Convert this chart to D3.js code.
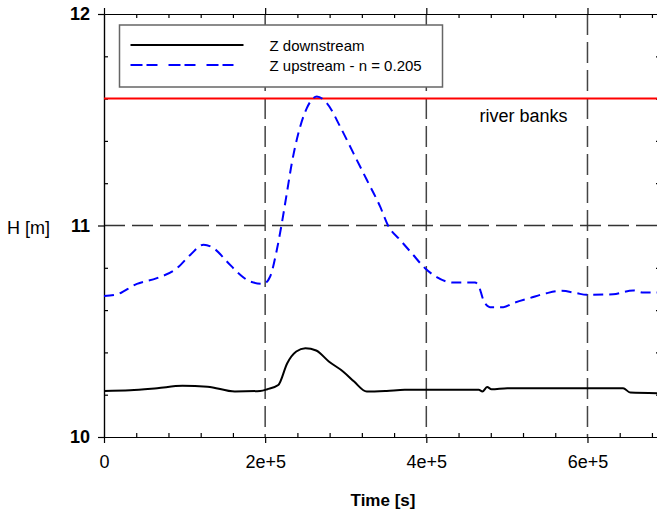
<!DOCTYPE html>
<html>
<head>
<meta charset="utf-8">
<script src="https://cdn.jsdelivr.net/npm/d3@7"></script>
<style>
  body { margin: 0; background: #fff; }
  svg { display: block; font-family: "Liberation Sans", Arial, sans-serif; }
</style>
</head>
<body>
<svg class="viz" width="657" height="514"></svg>
<script>
// time [s] and water level H [m]
var downTime = [0, 32400, 66000, 97300, 128500, 162400, 193800, 202700, 216300, 227400, 238600, 249900,
  263300, 279000, 297000, 310400, 326100, 350800, 373200, 465100, 469600, 475400, 480900, 500600,
  644200, 653100, 690000];
var downH = [10.218, 10.221, 10.231, 10.242, 10.238, 10.215, 10.218, 10.226, 10.246, 10.349, 10.404, 10.42,
  10.409, 10.357, 10.309, 10.262, 10.215, 10.218, 10.223, 10.223, 10.215, 10.236, 10.226, 10.231,
  10.231, 10.21, 10.207];

var upTime = [0, 14000, 40900, 65700, 90500, 107000, 123500, 135900, 152500, 169000, 181400, 197900,
  206200, 214500, 220700, 226900, 233100, 241300, 251700, 264100, 276500, 293000, 309500, 326100,
  342600, 352500, 367400, 381900, 398400, 412900, 433500, 460400, 464500, 470700, 479000, 495500,
  507900, 528600, 549300, 567900, 586500, 598900, 631900, 656700, 669100, 690000];
var upH = [10.667, 10.672, 10.724, 10.751, 10.798, 10.861, 10.909, 10.893, 10.83, 10.767, 10.735, 10.724,
  10.759, 10.885, 11.011, 11.153, 11.295, 11.437, 11.555, 11.61, 11.579, 11.468, 11.342, 11.216,
  11.09, 11.0, 10.932, 10.869, 10.798, 10.756, 10.73, 10.73, 10.719, 10.649, 10.614, 10.614,
  10.633, 10.657, 10.68, 10.691, 10.68, 10.672, 10.675, 10.693, 10.683, 10.683];

var riverBanks = 11.6;

var xMajor = [0, 2e5, 4e5, 6e5];
var xMinor = d3.range(0, 690001, 4e4).filter(function(d) { return d % 2e5 != 0; });
var yMajor = [10, 11, 12];
var yMinor = [10.2, 10.4, 10.6, 10.8, 11.2, 11.4, 11.6, 11.8];
var xGrid = [2e5, 4e5, 6e5];
var yGrid = [11];

var legendNames = ["Z downstream", "Z upstream - n = 0.205"];

var svg = d3.select(".viz"),
    margin = {top: 14, right: -3, bottom: 77, left: 104},
    width = svg.attr("width") - margin.left - margin.right,
    height = svg.attr("height") - margin.top - margin.bottom;

var x = d3.scaleLinear().domain([0, 690000]).range([0, width]);
var y = d3.scaleLinear().domain([10, 12]).range([height, 0]);

var g = svg.append("g")
  .attr("transform", "translate(" + margin.left + "," + margin.top + ")");

// dashed grid
g.selectAll(".vgrid").data(xGrid).enter().append("line")
  .attr("x1", function(d) { return x(d); }).attr("x2", function(d) { return x(d); })
  .attr("y1", 0).attr("y2", height)
  .style("stroke", "#444").style("stroke-width", "1.5px").style("stroke-dasharray", "21,7");
g.selectAll(".hgrid").data(yGrid).enter().append("line")
  .attr("x1", 0).attr("x2", width)
  .attr("y1", function(d) { return y(d); }).attr("y2", function(d) { return y(d); })
  .style("stroke", "#333").style("stroke-width", "1.3px").style("stroke-dasharray", "21,7");

// axes
function styleAxis(sel) {
  sel.selectAll("path, line").style("stroke", "#000").style("stroke-width", "1.2px");
  sel.selectAll("text").style("font-family", "Liberation Sans, Arial, sans-serif")
    .style("font-size", "18px").style("fill", "#000");
}
var fmt = function(d) { return d == 0 ? "0" : (d / 1e5) + "e+5"; };

g.append("g").attr("transform", "translate(0," + height + ")")
  .call(d3.axisBottom(x).tickValues(xMajor).tickSize(6).tickSizeOuter(0).tickPadding(12).tickFormat(fmt))
  .call(styleAxis);
g.append("g").attr("transform", "translate(0," + height + ")")
  .call(d3.axisBottom(x).tickValues(xMinor).tickSize(-4).tickSizeOuter(0).tickFormat(""))
  .call(styleAxis);
g.append("g")
  .call(d3.axisTop(x).tickValues(xMajor).tickSize(6).tickSizeOuter(0).tickFormat(""))
  .call(styleAxis);
g.append("g")
  .call(d3.axisTop(x).tickValues(xMinor).tickSize(-4).tickSizeOuter(0).tickFormat(""))
  .call(styleAxis);
g.append("g")
  .call(d3.axisLeft(y).tickValues(yMajor).tickSize(6).tickSizeOuter(0).tickPadding(8).tickFormat(d3.format("d")))
  .call(styleAxis)
  .selectAll("text").style("font-weight", "bold");
g.append("g")
  .call(d3.axisLeft(y).tickValues(yMinor).tickSize(-4).tickSizeOuter(0).tickFormat(""))
  .call(styleAxis);
g.append("g").attr("transform", "translate(" + width + ",0)")
  .call(d3.axisRight(y).tickValues(yMinor).tickSize(-4).tickSizeOuter(0).tickFormat(""))
  .call(styleAxis);

// river banks level
g.append("line")
  .attr("x1", 0).attr("x2", width)
  .attr("y1", y(riverBanks)).attr("y2", y(riverBanks))
  .style("stroke", "#f00").style("stroke-width", "2px");
g.append("text")
  .text("river banks")
  .attr("x", x(4.66e5)).attr("y", y(riverBanks) + 23)
  .attr("font-size", "18px").attr("fill", "#000");

// series
var lineGen = d3.line()
  .curve(d3.curveMonotoneX)
  .x(function(d) { return x(d[0]); })
  .y(function(d) { return y(d[1]); });

g.append("path")
  .datum(d3.zip(upTime, upH))
  .attr("d", lineGen)
  .style("fill", "none").style("stroke", "#00f").style("stroke-width", "2px")
  .style("stroke-dasharray", "10,6");

g.append("path")
  .datum(d3.zip(downTime, downH))
  .attr("d", lineGen)
  .style("fill", "none").style("stroke", "#000").style("stroke-width", "2px");

// legend
var legend = svg.append("g").attr("transform", "translate(119.5,25)");
legend.append("rect")
  .attr("width", 323).attr("height", 62)
  .style("fill", "#fff").style("stroke", "#666").style("stroke-width", "1.5px");
legend.selectAll(".lg").data(legendNames).enter().append("line")
  .attr("x1", 11).attr("x2", 124)
  .attr("y1", function(d, i) { return 20 + i * 20; })
  .attr("y2", function(d, i) { return 20 + i * 20; })
  .style("stroke", function(d, i) { return i == 0 ? "#000" : "#00f"; })
  .style("stroke-width", "2px")
  .style("stroke-dasharray", function(d, i) { return i == 0 ? null : "12,4,11,11"; });
legend.selectAll(".lt").data(legendNames).enter().append("text")
  .text(function(d) { return d; })
  .attr("x", 150)
  .attr("y", function(d, i) { return 26 + i * 20; })
  .attr("font-size", "15px").attr("fill", "#000");

// axis titles
svg.append("text")
  .text("H [m]")
  .attr("x", 7).attr("y", 234)
  .attr("font-size", "18px");
svg.append("text")
  .text("Time [s]")
  .attr("x", 383).attr("y", 506)
  .attr("text-anchor", "middle")
  .attr("font-size", "17px").attr("font-weight", "bold");
</script>
</body>
</html>
